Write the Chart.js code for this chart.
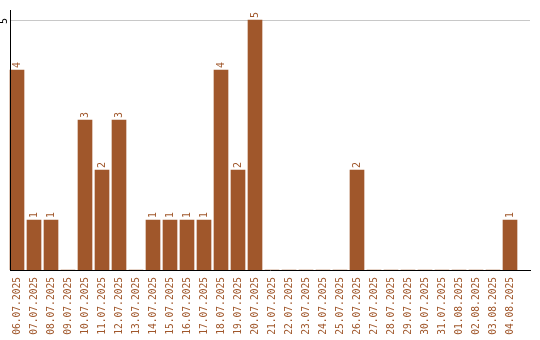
<!DOCTYPE html>
<html>
<head>
<meta charset="utf-8">
<script src="https://cdn.jsdelivr.net/npm/chart.js@4"></script>
<style>
  html, body { margin: 0; padding: 0; background: #fff; }
  #wrap { width: 540px; height: 340px; }
</style>
</head>
<body>
<div id="wrap"><canvas id="chart" width="540" height="340"></canvas></div>
<script>
const dates = ['06.07.2025', '07.07.2025', '08.07.2025', '09.07.2025', '10.07.2025', '11.07.2025',
    '12.07.2025', '13.07.2025', '14.07.2025', '15.07.2025', '16.07.2025', '17.07.2025',
    '18.07.2025', '19.07.2025', '20.07.2025', '21.07.2025', '22.07.2025', '23.07.2025',
    '24.07.2025', '25.07.2025', '26.07.2025', '27.07.2025', '28.07.2025', '29.07.2025',
    '30.07.2025', '31.07.2025', '01.08.2025', '02.08.2025', '03.08.2025', '04.08.2025'];
const counts = [4, 1, 1, 0, 3, 2, 3, 0, 1, 1, 1, 1, 4, 2, 5, 0, 0, 0, 0, 0, 2, 0, 0, 0, 0, 0, 0, 0, 0, 1];
const yTicks = [5];

const brown = '#a0572b';
const monoFont = '"DejaVu Sans Mono", monospace';

// axis lines, the single gridline, the rotated y tick and the value labels
const decorations = {
    id: 'decorations',
    beforeDatasetsDraw(chart) {
        const c = chart.ctx;
        const y = chart.scales.y;
        c.save();
        c.strokeStyle = '#c8c8c8';
        c.lineWidth = 1;
        yTicks.forEach(t => {
            const py = Math.round(y.getPixelForValue(t)) + 0.5;
            c.beginPath();
            c.moveTo(10, py);
            c.lineTo(530, py);
            c.stroke();
        });
        c.restore();
    },
    afterDatasetsDraw(chart) {
        const c = chart.ctx;
        const y = chart.scales.y;
        const area = chart.chartArea;
        c.save();
        c.strokeStyle = '#000';
        c.lineWidth = 1;
        c.beginPath();
        c.moveTo(10.5, area.top);
        c.lineTo(10.5, y.getPixelForValue(0));
        c.stroke();
        const by = Math.round(y.getPixelForValue(0)) + 0.5;
        c.beginPath();
        c.moveTo(10, by);
        c.lineTo(531, by);
        c.stroke();

        c.font = '10px ' + monoFont;
        c.fillStyle = '#000';
        c.textBaseline = 'middle';
        c.textAlign = 'center';
        yTicks.forEach(t => {
            c.save();
            c.translate(4, y.getPixelForValue(t) + 1);
            c.rotate(-Math.PI / 2);
            c.fillText(String(t), 0, 0);
            c.restore();
        });

        c.fillStyle = brown;
        c.textAlign = 'left';
        const meta = chart.getDatasetMeta(0);
        meta.data.forEach((bar, i) => {
            if (!counts[i]) return;
            c.save();
            c.translate(bar.x + 0.5, bar.y - 2);
            c.rotate(-Math.PI / 2);
            c.fillText(String(counts[i]), 0, 0);
            c.restore();
        });
        c.restore();
    }
};

new Chart(document.getElementById('chart'), {
    type: 'bar',
    data: {
        labels: dates,
        datasets: [{
            data: counts,
            backgroundColor: brown,
            borderWidth: 0,
            barThickness: 14
        }]
    },
    options: {
        responsive: false,
        animation: false,
        layout: { padding: { top: 10, right: 21.5, left: 0, bottom: 0 } },
        plugins: { legend: { display: false }, tooltip: { enabled: false } },
        scales: {
            x: {
                grid: { display: false, drawTicks: false },
                border: { display: false },
                ticks: {
                    color: brown,
                    font: { family: monoFont, size: 9.6 },
                    minRotation: 90,
                    maxRotation: 90,
                    autoSkip: false,
                    padding: 7
                },
                afterFit(scale) { scale.height = 70; }
            },
            y: {
                min: 0,
                max: 5.2,
                grid: { display: false },
                border: { display: false },
                ticks: { display: false },
                afterFit(scale) { scale.width = 8.5; }
            }
        }
    },
    plugins: [decorations]
});
</script>
</body>
</html>
